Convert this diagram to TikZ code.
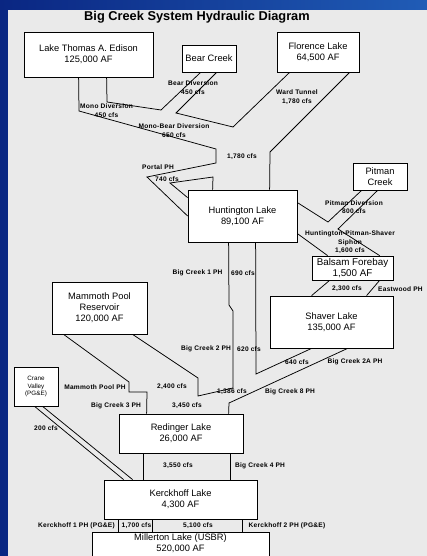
\documentclass[tikz,border=0pt]{standalone}
\usepackage{fontspec}
\setmainfont{Liberation Sans}
\newfontfamily\lblfont[LetterSpace=4]{Liberation Sans}
\definecolor{panel}{RGB}{234,234,234}
\definecolor{navyL}{RGB}{10,38,130}
\definecolor{navyR}{RGB}{32,92,182}
\begin{document}
\begin{tikzpicture}[x=1pt,y=-1pt,
  box/.style={draw=black, fill=white, line width=0.8pt, inner sep=0pt, align=center,
              font=\fontsize{9.3}{11}\selectfont},
  lbl/.style={inner sep=0pt, align=center, font=\lblfont\bfseries\fontsize{6.6}{8.5}\selectfont},
  conn/.style={line width=0.75pt, draw=black}]
\useasboundingbox (0,0) rectangle (427,556);
\clip (0,0) rectangle (427,556);
\shade[left color=navyL, right color=navyR] (0,0) rectangle (427,556);
\fill[panel] (8,10) rectangle (427,556);

\node[font=\bfseries\fontsize{12.8}{14}\selectfont, inner sep=0pt] (title) at (197,17) {Big Creek System Hydraulic Diagram};

% boxes
\node[box, minimum width=129pt, minimum height=45pt] (lte) at (88.5,54.5) {Lake Thomas A. Edison\\125,000 AF};
\node[box, minimum width=54pt, minimum height=27pt] (bc) at (209,58.5) {Bear Creek};
\node[box, minimum width=82pt, minimum height=40pt] (fl) at (318,52) {Florence Lake\\64,500 AF};
\node[box, minimum width=54pt, minimum height=27pt] (pc) at (380,176.5) {Pitman\\Creek};
\node[box, minimum width=109pt, minimum height=52pt] (hl) at (242.5,216) {Huntington Lake\\89,100 AF};
\node[box, minimum width=81pt, minimum height=24pt, font=\fontsize{9.8}{11}\selectfont] (bf) at (352.5,268) {Balsam Forebay\\1,500 AF};
\node[box, minimum width=123pt, minimum height=52pt] (sl) at (331.5,322) {Shaver Lake\\135,000 AF};
\node[box, minimum width=95pt, minimum height=52pt] (mp) at (99.5,308) {Mammoth Pool\\Reservoir\\120,000 AF};
\node[box, minimum width=44pt, minimum height=39pt, font=\fontsize{6.3}{7.5}\selectfont] (cv) at (36,386.5) {Crane\\Valley\\(PG\&E)};
\node[box, minimum width=124pt, minimum height=39pt] (rl) at (181,433.5) {Redinger Lake\\26,000 AF};
\node[box, minimum width=153pt, minimum height=39pt] (kl) at (180.5,499.5) {Kerckhoff Lake\\4,300 AF};
\node[box, minimum width=177pt, minimum height=40pt] (ml) at (180.5,552) {};
\node[inner sep=0pt, align=center, font=\fontsize{9.3}{10.5}\selectfont, anchor=north] (mlt) at ([yshift=-2pt]ml.north) {Millerton Lake (USBR)\\520,000 AF};

% connectors
\draw[conn] ([xshift=55pt]lte.south west) -- (79,111) -- (216,149) -- (216,163) -- (147,177) -- (hl.west);
\draw[conn] ([xshift=83pt]lte.south west) -- (107,102) -- (161,110) -- ([xshift=19pt]bc.south west);
\draw[conn] ([xshift=35pt]bc.south west) -- (176,113) -- (233,127) -- ([xshift=13pt]fl.south west);
\draw[conn] ([xshift=73pt]fl.south west) -- (270,152) -- ([xshift=82pt]hl.north west);
\draw[conn] ([xshift=25pt]hl.north west) -- (213,177) -- (170,183) -- ([yshift=-8pt]hl.north west);
\draw[conn] ([xshift=9pt]pc.south west) -- (328,222) -- ([yshift=-13pt]hl.north east);
\draw[conn] ([xshift=25pt]pc.south west) -- (338,229) -- ([xshift=68pt]bf.north west);
\draw[conn] ([yshift=-44pt]hl.north east) -- ([xshift=16pt]bf.north west);
\draw[conn] ([xshift=18pt]bf.south west) -- ([xshift=42pt]sl.north west);
\draw[conn] ([xshift=68pt]bf.south west) -- ([xshift=97pt]sl.north west);
\draw[conn] ([xshift=81pt]mp.south west) -- (198,378) -- (198,396) -- (233,388) -- (233,311) -- (229,305) -- ([xshift=41pt]hl.south west);
\draw[conn] ([xshift=68pt]hl.south west) -- (256,374) -- ([xshift=42pt]sl.south west);
\draw[conn] ([xshift=78pt]sl.south west) -- (229,403) -- ([xshift=110pt]rl.north west);
\draw[conn] ([xshift=12pt]mp.south west) -- (129,382) -- (129,392) -- (147,392) -- ([xshift=28pt]rl.north west);
\draw[conn] ([xshift=25pt]rl.south west) -- ([xshift=40pt]kl.north west);
\draw[conn] ([xshift=112pt]rl.south west) -- ([xshift=127pt]kl.north west);
\draw[conn] ([xshift=21pt]cv.south west) -- ([xshift=20pt]kl.north west);
\draw[conn] ([xshift=29pt]cv.south west) -- ([xshift=29pt]kl.north west);
\draw[conn] ([xshift=15pt]kl.south west) -- ([xshift=27pt]ml.north west);
\draw[conn] ([xshift=49pt]kl.south west) -- ([xshift=61pt]ml.north west);
\draw[conn] ([xshift=139pt]kl.south west) -- ([xshift=151pt]ml.north west);

% labels
\node[lbl] (l1) at (193,87.5) {Bear Diversion\\450 cfs};
\node[lbl] (l2) at (106.5,110.5) {Mono Diversion\\450 cfs};
\node[lbl] (l3) at (174,130.5) {Mono-Bear Diversion\\650 cfs};
\node[lbl] (l4) at (297,97) {Ward Tunnel\\1,780 cfs};
\node[lbl] (l5) at (242,157) {1,780 cfs};
\node[lbl] (l6) at (158,167) {Portal PH};
\node[lbl] (l7) at (167,179) {740 cfs};
\node[lbl] (l8) at (354,207) {Pitman Diversion\\800 cfs};
\node[lbl] (l9) at (350,242.5) {Huntington-Pitman-Shaver\\Siphon\\1,600 cfs};
\node[lbl] (l10) at (347,289) {2,300 cfs};
\node[lbl, anchor=west] (l11) at (378,289) {Eastwood PH};
\node[lbl] (l12) at (197.5,273) {Big Creek 1 PH};
\node[lbl] (l13) at (243,273) {690 cfs};
\node[lbl] (l14) at (206,349) {Big Creek 2 PH};
\node[lbl] (l15) at (249,349) {620 cfs};
\node[lbl] (l16) at (297,362) {640 cfs};
\node[lbl] (l17) at (355,362) {Big Creek 2A PH};
\node[lbl] (l18) at (95,387) {Mammoth Pool PH};
\node[lbl] (l19) at (172,387) {2,400 cfs};
\node[lbl] (l20) at (232,392) {1,386 cfs};
\node[lbl] (l21) at (290,392) {Big Creek 8 PH};
\node[lbl] (l22) at (116,406) {Big Creek 3 PH};
\node[lbl] (l23) at (187,406) {3,450 cfs};
\node[lbl] (l24) at (46,428) {200 cfs};
\node[lbl] (l25) at (178,466) {3,550 cfs};
\node[lbl] (l26) at (260,466) {Big Creek 4 PH};
\node[lbl] (l27) at (76.5,526) {Kerckhoff 1 PH (PG\&E)};
\node[lbl] (l28) at (136.5,526) {1,700 cfs};
\node[lbl] (l29) at (198,526) {5,100 cfs};
\node[lbl] (l30) at (287,526) {Kerckhoff 2 PH (PG\&E)};
\end{tikzpicture}
\end{document}
